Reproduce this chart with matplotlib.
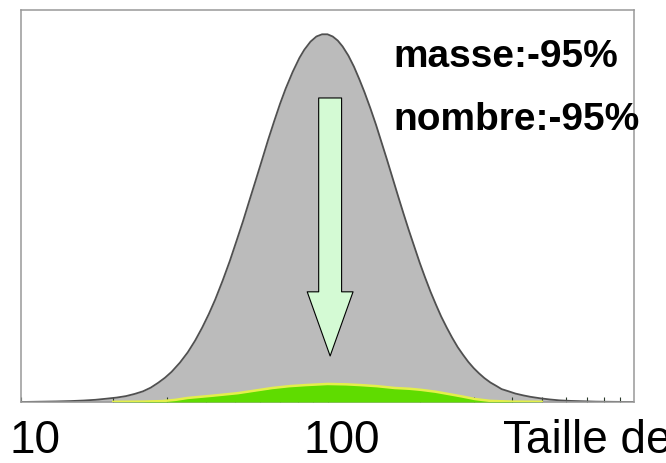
import matplotlib
matplotlib.use('Agg')
import matplotlib.pyplot as plt
import matplotlib.transforms as mtrans
from matplotlib.ticker import FixedLocator, NullFormatter

# distribution en taille (log), masse normalisée à 100
taille_avant = [10, 11.5, 13, 14.5, 16, 17.5, 19, 20.5, 22, 23.5, 25, 26.5, 28, 29.5,
                31, 33, 35, 37, 39, 41, 43, 45.5, 48, 50.5, 53, 55.5, 58, 61, 64, 67,
                70, 73, 77, 81, 84, 88, 92, 96, 100, 104, 108, 112, 117, 122, 127, 132,
                138, 144, 150, 156, 163, 170, 177, 184, 192, 200, 208, 217, 226, 235,
                245, 255, 266, 277, 288, 300, 312, 325, 340, 355, 370, 390, 410, 435,
                460, 495, 530, 570, 620, 680, 750, 850, 1000]
masse_avant = [0.0, 0.08, 0.15, 0.25, 0.4, 0.6, 0.9, 1.2, 1.6, 2.2, 2.9, 3.9, 5.2, 6.6,
               8.2, 10.7, 13.5, 16.7, 20.2, 23.9, 27.8, 33.0, 38.3, 43.8, 49.1, 54.5,
               59.6, 65.5, 71.2, 76.3, 81.0, 85.1, 89.7, 93.5, 95.7, 97.9, 99.3, 99.9,
               99.9, 99.3, 98.2, 96.6, 94.1, 91.1, 87.7, 84.2, 79.8, 75.3, 70.6, 66.1,
               60.9, 55.9, 51.2, 46.8, 42.2, 37.8, 33.9, 29.9, 26.4, 23.2, 20.2, 17.5,
               14.9, 12.8, 10.9, 9.2, 7.8, 6.5, 5.3, 4.4, 3.5, 2.9, 2.3, 1.8, 1.4, 1.0,
               0.7, 0.45, 0.3, 0.2, 0.1, 0.05, 0.0]

taille_apres = [20, 25, 29, 32, 35, 42, 51, 58, 66, 75, 85, 100, 115, 128, 145, 166,
                185, 202, 225, 247, 275, 303, 340, 400, 500]
masse_apres = [0.05, 0.1, 0.25, 0.6, 1.1, 1.7, 2.4, 3.1, 3.8, 4.3, 4.6, 4.9, 4.8, 4.6,
               4.3, 3.8, 3.6, 3.3, 2.8, 2.2, 1.5, 0.8, 0.3, 0.1, 0.05]

ticks_maj = [10, 100]
ticks_min = [20, 30, 40, 50, 60, 70, 80, 90, 200, 300, 400, 500, 600, 700, 800, 900]

police = ['Liberation Sans', 'DejaVu Sans']

fig = plt.figure(figsize=(6.66, 4.63), dpi=100)
ax = fig.add_axes([21 / 666, 61 / 463, 613 / 666, 392 / 463])

ax.fill_between(taille_avant, masse_avant, color='#bbbbbb', lw=0, zorder=1)
ax.plot(taille_avant, masse_avant, color='#505050', lw=1.3, zorder=2)
ax.fill_between(taille_apres, masse_apres, color='#5fdc00', lw=0, zorder=3)
ax.plot(taille_apres, masse_apres, color='#e4f04a', lw=1.8, zorder=4)

# fleche de reduction
ax.annotate('', xy=(102, 12.5), xytext=(102, 82.6),
            arrowprops=dict(arrowstyle='simple,head_length=2.8,head_width=2,tail_width=1',
                            mutation_scale=16.5, fc='#d4fad4', ec='black', lw=0.8,
                            shrinkA=0, shrinkB=0), zorder=5)

ax.set_xscale('log')
ax.set_xlim(10, 1000)
ax.set_ylim(0, 106.5)
ax.set_yticks([])
ax.set_xticks(ticks_maj)
ax.set_xticklabels([str(t) for t in ticks_maj], family=police)
ax.xaxis.set_minor_locator(FixedLocator(ticks_min))
ax.xaxis.set_minor_formatter(NullFormatter())
ax.tick_params(axis='x', which='both', direction='in', length=3.6, width=0.8,
               color='#2a3a2a', pad=12.5, labelsize=33)
for lbl in ax.get_xticklabels():
    lbl.set_transform(lbl.get_transform() +
                      mtrans.ScaledTranslation(14 / 100, 0, fig.dpi_scale_trans))

for s in ax.spines.values():
    s.set_color('#999999')
    s.set_linewidth(1.1)

fig.text(393 / 666, (463 - 67) / 463, 'masse:-95%', fontsize=28, fontweight='bold',
         family=police, va='baseline')
fig.text(393 / 666, (463 - 130) / 463, 'nombre:-95%', fontsize=28, fontweight='bold',
         family=police, va='baseline')
fig.text(503 / 666, (463 - 453) / 463, 'Taille des particules (nm)', fontsize=33,
         family=police, va='baseline')

fig.savefig('out.png', dpi=100)
